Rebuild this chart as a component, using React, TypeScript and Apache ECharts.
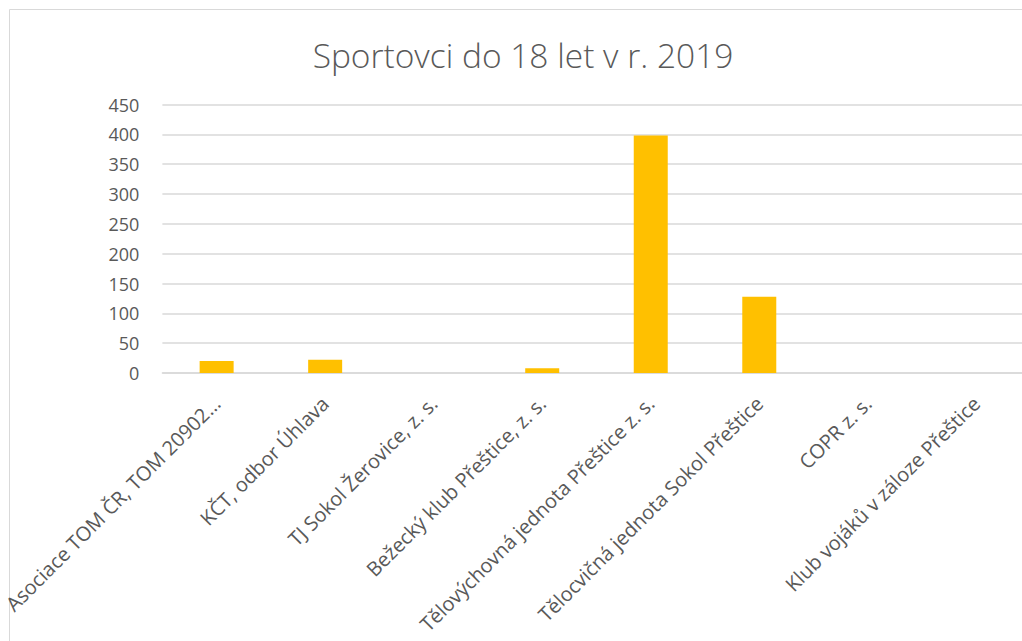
import React, { useEffect, useRef } from "react";
import * as echarts from "echarts";

const categories = [
  "Asociace TOM ČR, TOM 20902…",
  "KČT, odbor Úhlava",
  "TJ Sokol Žerovice, z. s.",
  "Bežecký klub Přeštice, z. s.",
  "Tělovýchovná jednota Přeštice z. s.",
  "Tělocvičná jednota Sokol Přeštice",
  "COPR z. s.",
  "Klub vojáků v záloze Přeštice",
];
const values = [20, 22, 0, 8, 398, 128, 0, 0];
const titleText = "Sportovci do 18 let v r. 2019";

export default function App() {
  const ref = useRef<HTMLDivElement>(null);
  useEffect(() => {
    if (!ref.current) return;
    const chart = echarts.init(ref.current, undefined, { renderer: "svg" });
    const font = "'Open Sans', 'Noto Sans', sans-serif";
    chart.setOption({
      animation: false,
      backgroundColor: "#ffffff",
      title: {
        text: titleText,
        left: 518,
        textAlign: "center",
        top: 33,
        textStyle: { fontFamily: font, fontSize: 33.5, fontWeight: 300, color: "#595959" },
      },
      graphic: [
        {
          type: "rect",
          shape: { x: 9.5, y: 9.5, width: 1100, height: 800 },
          style: { fill: "none", stroke: "#d9d9d9", lineWidth: 1 },
          silent: true,
        },
      ],
      grid: { left: 160.6, right: 14.4, top: 104.5, height: 268.5, containLabel: false },
      xAxis: {
        type: "category",
        data: categories,
        axisLine: { show: true, lineStyle: { color: "#d9d9d9", width: 1.5 } },
        axisTick: { show: false },
        axisLabel: {
          interval: 0,
          rotate: 45,
          margin: 27,
          color: "#595959",
          fontFamily: font,
          fontSize: 20,
        },
      },
      yAxis: {
        type: "value",
        min: 0,
        max: 450,
        interval: 50,
        axisLine: { show: false },
        axisTick: { show: false },
        splitLine: { lineStyle: { color: "#d9d9d9", width: 1.5 } },
        axisLabel: { color: "#595959", fontFamily: font, fontSize: 18, margin: 23 },
      },
      series: [
        {
          type: "bar",
          data: values,
          barWidth: 34,
          itemStyle: { color: "#ffc000" },
        },
      ],
    });
    return () => chart.dispose();
  }, []);
  return (
    <div style={{ position: "fixed", left: 0, top: 0, width: 1022, height: 641, overflow: "hidden", background: "#fff" }}>
      <div ref={ref} style={{ width: 1045, height: 660 }} />
    </div>
  );
}
